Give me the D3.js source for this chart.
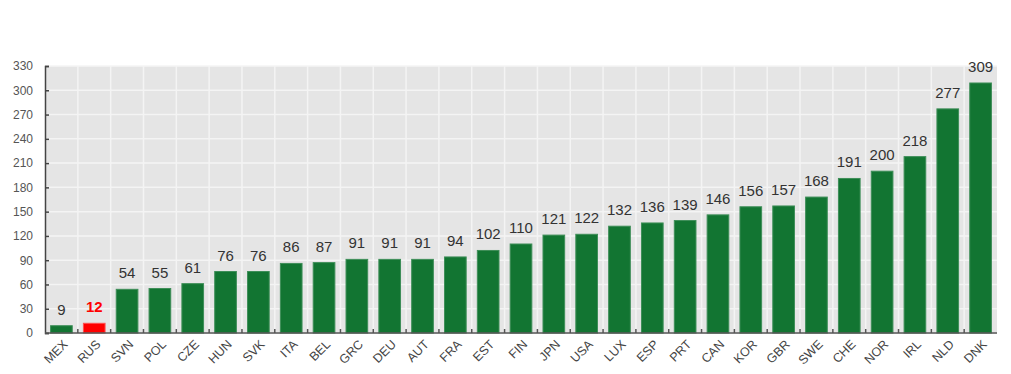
<!DOCTYPE html>
<html>
<head>
<meta charset="utf-8">
<script src="https://cdn.jsdelivr.net/npm/d3@7"></script>
<style>
  body { margin: 0; background: #fff; }
  text { font-family: Arial, "Liberation Sans", sans-serif; }
</style>
</head>
<body>
<div id="chart"></div>
<script>
const countries = ["MEX", "RUS", "SVN", "POL", "CZE", "HUN", "SVK", "ITA", "BEL", "GRC",
  "DEU", "AUT", "FRA", "EST", "FIN", "JPN", "USA", "LUX", "ESP", "PRT", "CAN", "KOR",
  "GBR", "SWE", "CHE", "NOR", "IRL", "NLD", "DNK"];
const values = [9, 12, 54, 55, 61, 76, 76, 86, 87, 91, 91, 91, 94, 102, 110, 121, 122,
  132, 136, 139, 146, 156, 157, 168, 191, 200, 218, 277, 309];
const yTicks = [0, 30, 60, 90, 120, 150, 180, 210, 240, 270, 300, 330];
const highlight = "RUS";

const data = countries.map((c, i) => ({ country: c, value: values[i] }));

const width = 1011;
const height = 374;
const margin = { top: 66, right: 14, bottom: 41, left: 45 };
const innerW = width - margin.left - margin.right;
const innerH = height - margin.top - margin.bottom;

const svg = d3.select("#chart").append("svg")
  .attr("width", width)
  .attr("height", height);

const g = svg.append("g").attr("transform", `translate(${margin.left},${margin.top})`);

const x = d3.scaleBand().domain(countries).range([0, innerW]).paddingInner(0.34).paddingOuter(0.17);
const y = d3.scaleLinear().domain([0, 330]).range([innerH, 0]);

// background
g.append("rect")
  .attr("width", innerW)
  .attr("height", innerH)
  .attr("fill", "#e5e5e5");

// horizontal grid
g.append("g")
  .selectAll("line")
  .data(yTicks)
  .join("line")
  .attr("x1", 0)
  .attr("x2", innerW)
  .attr("y1", (d) => y(d))
  .attr("y2", (d) => y(d))
  .attr("stroke", "#f4f4f4")
  .attr("stroke-width", 1.5);

// vertical grid at band boundaries
const step = x.step();
const bounds = d3.range(1, countries.length).map((i) => i * step);
g.append("g")
  .selectAll("line")
  .data(bounds)
  .join("line")
  .attr("x1", (d) => d)
  .attr("x2", (d) => d)
  .attr("y1", 0)
  .attr("y2", innerH)
  .attr("stroke", "#f4f4f4")
  .attr("stroke-width", 1.5);

// bars
g.append("g")
  .selectAll("rect")
  .data(data)
  .join("rect")
  .attr("x", (d) => x(d.country))
  .attr("y", (d) => y(d.value))
  .attr("width", x.bandwidth())
  .attr("height", (d) => innerH - y(d.value))
  .attr("fill", (d) => (d.country === highlight ? "#ff0000" : "#127532"))
  .attr("stroke", (d) => (d.country === highlight ? "#ff5050" : "#3e8e58"))
  .attr("stroke-width", 1);

// value labels
g.append("g")
  .selectAll("text")
  .data(data)
  .join("text")
  .attr("x", (d) => x(d.country) + x.bandwidth() / 2)
  .attr("y", (d) => y(d.value) - 11)
  .attr("text-anchor", "middle")
  .attr("font-size", 15)
  .attr("font-weight", (d) => (d.country === highlight ? "bold" : "normal"))
  .attr("fill", (d) => (d.country === highlight ? "#ff0000" : "#333"))
  .text((d) => d.value);

// y axis
const yAxis = g.append("g")
  .call(d3.axisLeft(y).tickValues(yTicks).tickSize(-4).tickPadding(12));
yAxis.select(".domain").attr("stroke", "#444").attr("stroke-width", 1.5);
yAxis.selectAll(".tick line").attr("stroke", "#444").attr("stroke-width", 1.5);
yAxis.selectAll("text").attr("font-size", 12).attr("fill", "#555")
  .attr("font-family", "Arial, 'Liberation Sans', sans-serif");

// x axis line and inward ticks at band boundaries
g.append("line")
  .attr("x1", 0)
  .attr("x2", innerW)
  .attr("y1", innerH)
  .attr("y2", innerH)
  .attr("stroke", "#555")
  .attr("stroke-width", 1.5);
g.append("g")
  .selectAll("line")
  .data(bounds)
  .join("line")
  .attr("x1", (d) => d)
  .attr("x2", (d) => d)
  .attr("y1", innerH)
  .attr("y2", innerH - 4)
  .attr("stroke", "#555")
  .attr("stroke-width", 1.5);

// x labels
g.append("g")
  .selectAll("text")
  .data(countries)
  .join("text")
  .attr("transform", (d) => `translate(${x(d) + x.bandwidth() / 2 + 4},${innerH + 9}) rotate(-45)`)
  .attr("text-anchor", "end")
  .attr("dy", "0.35em")
  .attr("font-size", 12.5)
  .attr("fill", "#444")
  .text((d) => d);
</script>
</body>
</html>
